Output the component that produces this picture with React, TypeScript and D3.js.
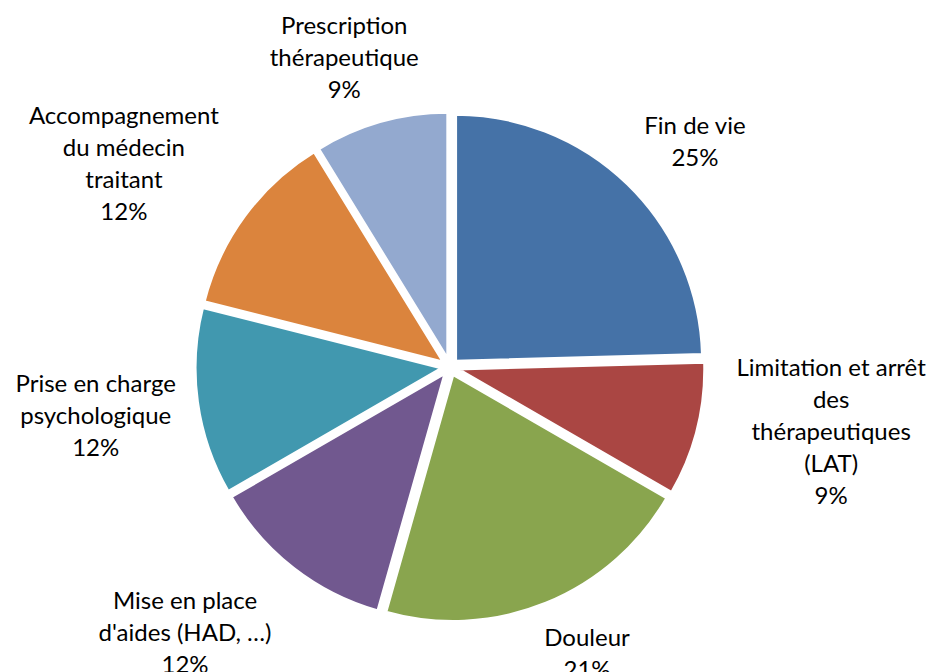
import React, { useEffect, useRef } from 'react';
import * as d3 from 'd3';

// Nombre de réponses par thème (total 57)
const categories = [
  'Fin de vie',
  'Limitation et arrêt des thérapeutiques (LAT)',
  'Douleur',
  "Mise en place d'aides (HAD, …)",
  'Prise en charge psychologique',
  'Accompagnement du médecin traitant',
  'Prescription thérapeutique',
];
const values = [14, 5, 12, 7, 7, 7, 5];
const colors = ['#4572A7', '#AA4643', '#89A54E', '#71588F', '#4198AF', '#DB843D', '#93A9CF'];
// retour à la ligne comme dans Excel
const labelLines = [
  ['Fin de vie'],
  ['Limitation et arrêt', 'des', 'thérapeutiques', '(LAT)'],
  ['Douleur'],
  ['Mise en place', "d'aides (HAD, …)"],
  ['Prise en charge', 'psychologique'],
  ['Accompagnement', 'du médecin', 'traitant'],
  ['Prescription', 'thérapeutique'],
];
// petits décalages des étiquettes (placement "ajustement optimal")
const labelNudge = [[25, -9], [36, -21], [21, 8], [-51, 16], [-15, 5], [-39, -6], [-14, -4]];

const App = () => {
  const ref = useRef<SVGSVGElement>(null);

  useEffect(() => {
    const width = 933;
    const height = 672;
    const cx = 450;
    const cy = 367;
    const radius = 247;
    const explode = 8;
    const lineH = 32;

    const svg = d3.select(ref.current);
    svg.selectAll('*').remove();

    const total = d3.sum(values);
    const pie = d3.pie<number>().sort(null).value((d) => d);
    const arcs = pie(values);
    const arc = d3.arc<d3.PieArcDatum<number>>().innerRadius(0).outerRadius(radius);

    const g = svg.append('g').attr('transform', `translate(${cx},${cy})`);

    // parts (légèrement éclatées)
    g.selectAll('path')
      .data(arcs)
      .enter()
      .append('path')
      .attr('d', arc)
      .attr('fill', (d, i) => colors[i])
      .attr('stroke', 'white')
      .attr('stroke-width', 3)
      .attr('transform', (d) => {
        const a = (d.startAngle + d.endAngle) / 2;
        return `translate(${Math.sin(a) * explode},${-Math.cos(a) * explode})`;
      });

    // étiquettes
    arcs.forEach((d, i) => {
      const a = (d.startAngle + d.endAngle) / 2;
      const lines = [...labelLines[i], `${Math.round((values[i] / total) * 100)}%`];
      const t = g
        .append('text')
        .attr('text-anchor', 'middle')
        .style('font-family', 'Lato, "Open Sans", sans-serif')
        .style('font-size', '24px')
        .style('fill', '#000');
      lines.forEach((l, k) => {
        t.append('tspan').attr('x', 0).attr('y', k * lineH).text(l);
      });
      const bb = (t.node() as SVGTextElement).getBBox();
      const rr = radius + explode + 14;
      const px = Math.sin(a) * rr + (Math.sin(a) * bb.width) / 2;
      const py = -Math.cos(a) * rr - (Math.cos(a) * lineH * lines.length) / 2;
      const bx = px + labelNudge[i][0] - (Math.sin(a) * (bb.width - bb.width / 1.09)) / 2;
      const by = py + labelNudge[i][1] - ((lines.length - 1) * lineH) / 2 + 8;
      t.attr('transform', `translate(${bx},${by})`);
    });

    svg.attr('width', width).attr('height', height);
  }, []);

  return (
    <div style={{ position: 'absolute', left: 0, top: 0, background: 'white' }}>
      <svg ref={ref} width={933} height={672} style={{ display: 'block' }} />
    </div>
  );
};

export default App;
